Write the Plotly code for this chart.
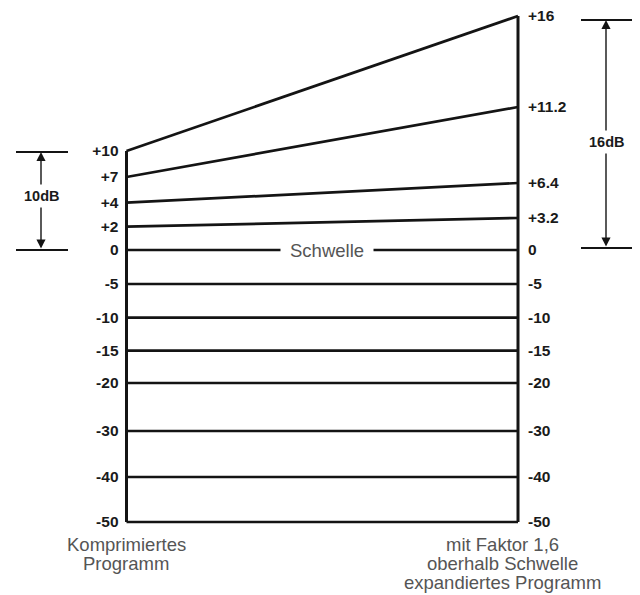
import numpy as np
import plotly.graph_objects as go

# ---- data -------------------------------------------------------------
left_levels = [10, 7, 4, 2, 0, -5, -10, -15, -20, -30, -40, -50]
right_levels = [16, 11.2, 6.4, 3.2, 0, -5, -10, -15, -20, -30, -40, -50]
left_labels = ["+10", "+7", "+4", "+2", "0", "-5", "-10", "-15", "-20", "-30", "-40", "-50"]
right_labels = ["+16", "+11.2", "+6.4", "+3.2", "0", "-5", "-10", "-15", "-20", "-30", "-40", "-50"]
threshold_label = "Schwelle"
left_caption = ["Komprimiertes", "Programm"]
right_caption = ["mit Faktor 1,6", "oberhalb Schwelle", "expandiertes Programm"]
left_span_label = "10dB"
right_span_label = "16dB"

# ---- schematic (non-linear) vertical scale of the drawing -------------
SCALE_DB = [-50, -40, -30, -20, -15, -10, -5, 0, 2, 3.2, 4, 6.4, 7, 10, 11.2, 16]
SCALE_H = [0, 45, 91, 139, 171.3, 204.3, 238, 272, 295.3, 304, 319.3, 339, 345, 371, 415, 506]


def scale(db):
    return float(np.interp(db, SCALE_DB, SCALE_H))


# ---- layout geometry (page body has an 8px margin) ---------------------
OFF = 8
W, H = 640 - OFF, 595 - OFF
LPX, RPX = 126.5, 518.0          # page pixel x of the two program columns
BOTTOM_PX = 522.0                # page pixel y of -50
x0 = -(LPX - OFF) / (RPX - LPX)
x1 = x0 + W / (RPX - LPX)
y1 = BOTTOM_PX - OFF
y0 = y1 - H


def px_x(px):
    return (px - LPX) / (RPX - LPX)


def px_y(py):
    return BOTTOM_PX - py


LINE = "#141414"
TXT = "#1a1a1a"
GREY = "#555555"
FONT = "Liberation Sans, Arial, sans-serif"

fig = go.Figure()

# level lines from compressed to expanded program
for lv, rv in zip(left_levels, right_levels):
    fig.add_trace(go.Scatter(
        x=[0, 1], y=[scale(lv), scale(rv)], mode="lines",
        line=dict(color=LINE, width=2.7), hoverinfo="skip", showlegend=False))

# the two program columns
fig.add_trace(go.Scatter(
    x=[0, 0], y=[scale(min(left_levels)), scale(max(left_levels))], mode="lines",
    line=dict(color=LINE, width=3), hoverinfo="skip", showlegend=False))
fig.add_trace(go.Scatter(
    x=[1, 1], y=[scale(min(right_levels)), scale(max(right_levels))], mode="lines",
    line=dict(color=LINE, width=3), hoverinfo="skip", showlegend=False))

# dummy trace for the right axis
fig.add_trace(go.Scatter(x=[1], y=[scale(0)], yaxis="y2", mode="markers",
                         marker=dict(opacity=0), hoverinfo="skip", showlegend=False))

tickfont = dict(family=FONT, size=15.5, color=TXT, weight="bold")

fig.update_layout(
    width=W, height=H,
    margin=dict(l=0, r=0, t=0, b=0),
    paper_bgcolor="white", plot_bgcolor="white",
    xaxis=dict(range=[x0, x1], visible=False, fixedrange=True),
    yaxis=dict(range=[y0, y1], anchor="free", position=(LPX - OFF) / W, side="left",
               tickmode="array", tickvals=[scale(v) for v in left_levels],
               ticktext=left_labels, ticks="", showgrid=False, zeroline=False,
               showline=False, tickfont=tickfont, ticklabelstandoff=8,
               ticklabeloverflow="allow", automargin=False, fixedrange=True),
    yaxis2=dict(range=[y0, y1], overlaying="y", anchor="free",
                position=(RPX - OFF) / W, side="right", tickmode="array",
                tickvals=[scale(v) for v in right_levels],
                ticktext=right_labels, ticks="", showgrid=False, zeroline=False,
                showline=False, tickfont=tickfont, ticklabelstandoff=9,
                ticklabeloverflow="allow", automargin=False, fixedrange=True),
)

annotations = []
shapes = []

# threshold label interrupting the 0 line
annotations.append(dict(x=px_x(327), y=scale(0), xref="x", yref="y",
                        text=threshold_label, showarrow=False,
                        font=dict(family=FONT, size=18.5, color=GREY),
                        bgcolor="white", borderpad=9))


def bracket(xl, xr, xa, top_px, bot_px, label, label_py):
    for py in (top_px, bot_px):
        shapes.append(dict(type="line", xref="x", yref="y",
                           x0=px_x(xl), x1=px_x(xr), y0=px_y(py), y1=px_y(py),
                           line=dict(color=LINE, width=2.2)))
    annotations.append(dict(x=px_x(xa), y=px_y(top_px), ax=px_x(xa), ay=px_y(bot_px),
                            xref="x", yref="y", axref="x", ayref="y", text="",
                            showarrow=True, arrowhead=2, arrowside="end+start",
                            arrowsize=1.3, arrowwidth=1.4, arrowcolor=LINE,
                            standoff=0, startstandoff=0))
    annotations.append(dict(x=px_x(xa), y=px_y(label_py), xref="x", yref="y",
                            text=label, showarrow=False, bgcolor="white",
                            borderpad=3,
                            font=dict(family=FONT, size=14.5, color=TXT, weight="bold")))


bracket(16, 68, 41, 152, 250, left_span_label, 196)
bracket(581, 633, 606, 20, 248, right_span_label, 142)

# captions
for txt, py in zip(left_caption, [544, 563]):
    annotations.append(dict(x=px_x(126), y=px_y(py), xref="x", yref="y", text=txt,
                            showarrow=False,
                            font=dict(family=FONT, size=18.5, color=GREY)))
for txt, py in zip(right_caption, [544, 563, 582]):
    annotations.append(dict(x=px_x(502), y=px_y(py), xref="x", yref="y", text=txt,
                            showarrow=False,
                            font=dict(family=FONT, size=18.5, color=GREY)))

fig.update_layout(annotations=annotations, shapes=shapes)

fig.write_html("out.html")
